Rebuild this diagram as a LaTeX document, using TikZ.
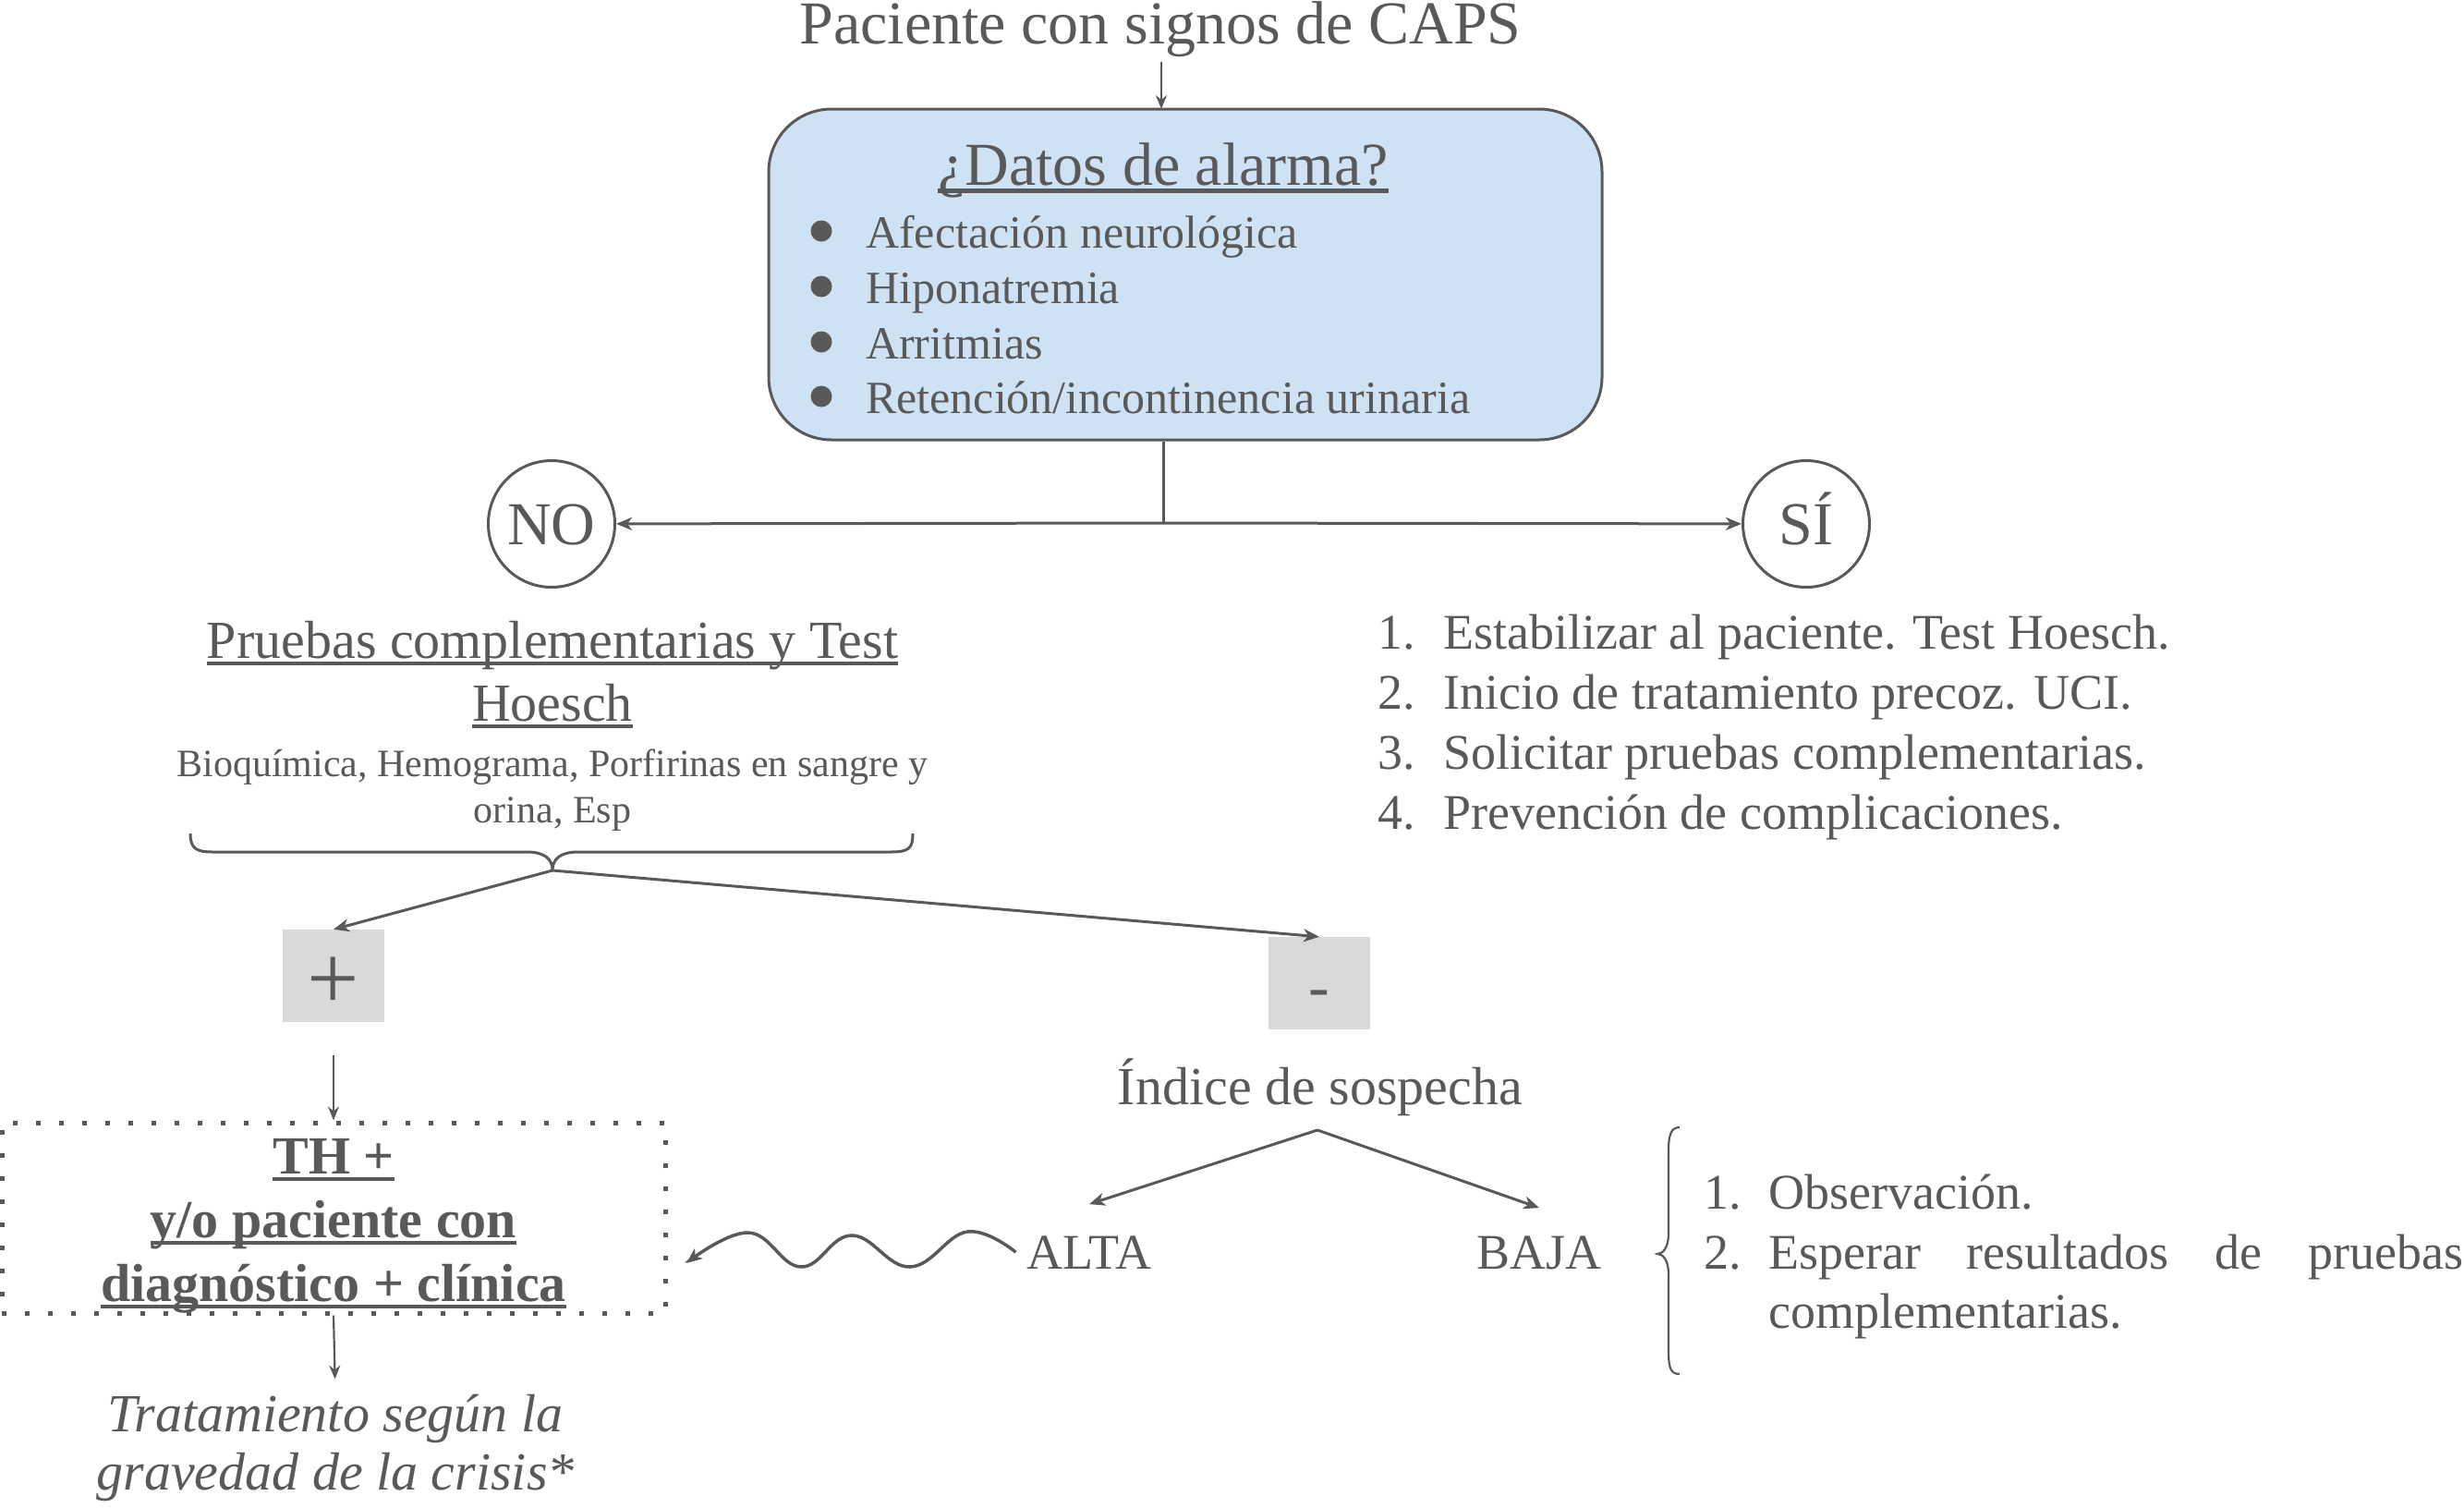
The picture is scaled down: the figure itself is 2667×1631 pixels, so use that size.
\documentclass[tikz,border=0pt]{standalone}
\usepackage{fontspec}
\setmainfont{Liberation Serif}
\usetikzlibrary{arrows.meta}
\definecolor{tg}{RGB}{89,89,89}
\definecolor{boxblue}{RGB}{207,226,243}
\definecolor{boxgray}{RGB}{217,217,217}
\newcommand\ulx[1]{\setbox0\hbox{#1}\rlap{\rule[-0.14em]{\wd0}{0.075em}}\box0}
\newcommand\fs[1]{\fontsize{#1}{#1}\selectfont}
\begin{document}
\begin{tikzpicture}[x=1pt,y=-1pt,
  every node/.style={text=tg, inner sep=0pt},
  line/.style={draw=tg, line width=3pt},
  thin line/.style={draw=tg, line width=2.2pt},
  arr/.style={line, -{Stealth[length=17pt,width=14pt,inset=5pt]}},
  arrthin/.style={thin line, -{Stealth[length=15pt,width=12pt,inset=5pt]}},
  txt/.style={anchor=base},
  ltxt/.style={anchor=base west},
  decision/.style={circle, draw=tg, line width=3pt, minimum size=137pt, text height=44pt, text depth=0pt},
  signbox/.style={fill=boxgray, minimum width=110pt, minimum height=100pt}]
\useasboundingbox (0,0) rectangle (2667,1631);

% title and alarm box
\node[txt] (title) at (1256,47) {\fs{66}Paciente con signos de CAPS};
\node[draw=tg, line width=3pt, fill=boxblue, rounded corners=68pt,
      minimum width=902pt, minimum height=358pt] (alarm) at (1283,297) {};
\coordinate (jt) at (1257,118);
\draw[arrthin, shorten <=6pt] (title.south -| jt) -- (jt);

\node[txt] (datos) at (1259,200) {\fs{66}\ulx{¿Datos de alarma?}};
\fill[tg] (889,250) circle (11.5pt);
\fill[tg] (889,310) circle (11.5pt);
\fill[tg] (889,370) circle (11.5pt);
\fill[tg] (889,429) circle (11.5pt);
\node[ltxt] (b1) at (937,268) {\fs{50}Afectación neurológica};
\node[ltxt] (b2) at (937,328) {\fs{50}Hiponatremia};
\node[ltxt] (b3) at (937,388) {\fs{50}Arritmias};
\node[ltxt] (b4) at (937,447) {\fs{50}Retención/incontinencia urinaria};

% decision
\coordinate (jb) at (1259,566);
\node[decision] (no) at (597,567) {\fs{66}NO};
\node[decision] (si) at (1955,567) {\fs{66}SÍ};
\draw[line] (alarm.south -| jb) -- (jb);
\draw[arr] (jb) -- (no);
\draw[arr] (jb) -- (si);

% SI list
\node[ltxt] (s1n) at (1491,702) {\fs{54}1.};
\node[ltxt] (s1) at (1562,702) {\fs{54}Estabilizar al paciente. Test Hoesch.};
\node[ltxt] (s2n) at (1491,767) {\fs{54}2.};
\node[ltxt] (s2) at (1562,767) {\fs{54}Inicio de tratamiento precoz. UCI.};
\node[ltxt] (s3n) at (1491,832) {\fs{54}3.};
\node[ltxt] (s3) at (1562,832) {\fs{54}Solicitar pruebas complementarias.};
\node[ltxt] (s4n) at (1491,897) {\fs{54}4.};
\node[ltxt] (s4) at (1562,897) {\fs{54}Prevención de complicaciones.};

% NO branch
\node[txt] (pr1) at (598,712) {\fs{58}\ulx{Pruebas complementarias y Test}};
\node[txt] (pr2) at (598,780) {\fs{58}\ulx{Hoesch}};
\node[txt] (bio1) at (598,840) {\fs{42}Bioquímica, Hemograma, Porfirinas en sangre y};
\node[txt] (bio2) at (598,890) {\fs{42}orina, Esp};
\coordinate (brtip) at (598,942);
\draw[line] (206,902) .. controls (206,918) and (212,922) .. (230,922) -- (570,922)
  .. controls (590,922) and (598,930) .. (brtip)
  .. controls (598,930) and (606,922) .. (626,922) -- (964,922)
  .. controls (984,922) and (988,918) .. (988,902);

\node[signbox, text height=72pt, text depth=0pt] (plus) at (361,1056) {\fs{100}+};
\node[signbox, text height=52pt, text depth=0pt] (minus) at (1428,1064) {\fs{68}-};
\draw[arr] (brtip) -- (plus.north);
\draw[arr] (brtip) -- (minus.north);

% positive result
\node[draw=tg, line width=5pt, dash pattern=on 5pt off 20pt,
      minimum width=718pt, minimum height=206pt] (dot) at (361,1318) {};
\draw[arrthin, shorten <=36pt] (plus.south) -- (dot.north);
\node[txt] (th1) at (361,1270) {\fs{58}\bfseries\ulx{TH +}};
\node[txt] (th2) at (361,1339) {\fs{58}\bfseries\ulx{y/o paciente con}};
\node[txt] (th3) at (361,1408) {\fs{58}\bfseries\ulx{diagnóstico + clínica}};
\node[txt] (trat1) at (363,1549) {\fs{58}\itshape Tratamiento según la};
\node[txt] (trat2) at (363,1612) {\fs{58}\itshape gravedad de la crisis*};
\draw[arrthin, shorten >=16pt] (dot.south) -- (trat1.north);

% negative result
\node[txt] (ind) at (1429,1195) {\fs{58}Índice de sospecha};
\coordinate (indb) at (1426,1223);
\node[txt] (alta) at (1179,1373) {\fs{54}ALTA};
\node[txt] (baja) at (1666,1373) {\fs{54}BAJA};
\draw[arr] (indb) -- ([yshift=34pt]alta.north);
\draw[arr] (indb) -- ([yshift=30pt]baja.north);
\coordinate (wend) at (743,1367);
\draw[arr, line width=3.5pt] plot[smooth, tension=0.7] coordinates {([xshift=-12pt]alta.west) (1047,1333) (985,1371) (922,1337) (867,1371) (810,1334) (wend)};

% BAJA list
\draw[thin line] (1818,1220) .. controls (1808,1220) and (1806,1230) .. (1806,1245) -- (1806,1335)
  .. controls (1806,1350) and (1800,1357) .. (1794,1357)
  .. controls (1800,1357) and (1806,1364) .. (1806,1379) -- (1806,1462)
  .. controls (1806,1480) and (1808,1487) .. (1818,1487);
\node[ltxt] (o1n) at (1844,1308) {\fs{54}1.};
\node[ltxt] (o1) at (1914,1308) {\fs{54}Observación.};
\node[ltxt] (o2n) at (1844,1373) {\fs{54}2.};
\node[ltxt] (o2) at (1914,1373) {\fs{54}\makebox[752pt][s]{Esperar\hfill resultados\hfill de\hfill pruebas}};
\node[ltxt] (o3) at (1914,1437) {\fs{54}complementarias.};
\end{tikzpicture}
\end{document}
